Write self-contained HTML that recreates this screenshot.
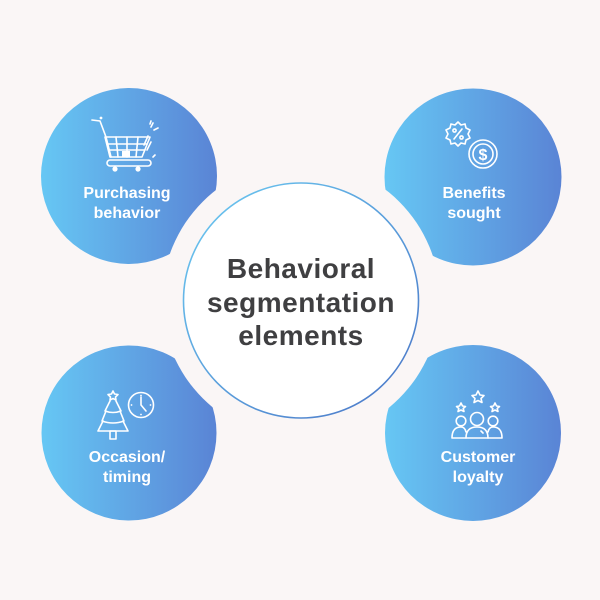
<!DOCTYPE html>
<html>
<head>
<meta charset="utf-8">
<style>
  html,body{margin:0;padding:0;background:#faf6f6;}
  svg{display:block;}
  .lbl{font-family:"Liberation Sans",Arial,sans-serif;font-weight:bold;font-size:16px;fill:#ffffff;text-anchor:middle;}
  .ctr{font-family:"Liberation Sans",Arial,sans-serif;font-weight:bold;font-size:28px;fill:#3f3f41;text-anchor:middle;letter-spacing:0.5px;}
  .ic{fill:none;stroke:#ffffff;stroke-width:1.6;stroke-linecap:round;stroke-linejoin:round;}
</style>
</head>
<body>
<svg width="600" height="600" viewBox="0 0 600 600" xmlns="http://www.w3.org/2000/svg">
  <defs>
    <linearGradient id="g" x1="0" y1="0" x2="1" y2="0">
      <stop offset="0" stop-color="#66c7f4"/>
      <stop offset="1" stop-color="#5a84d5"/>
    </linearGradient>
    <linearGradient id="rg" x1="0" y1="0" x2="1" y2="1">
      <stop offset="0" stop-color="#6ccbf2"/>
      <stop offset="1" stop-color="#4a74c6"/>
    </linearGradient>
  </defs>
  <rect width="600" height="600" fill="#faf6f6"/>

  <!-- outer circles -->
  <circle cx="129" cy="176" r="88" fill="url(#g)"/>
  <circle cx="473" cy="177" r="88.5" fill="url(#g)"/>
  <circle cx="129" cy="433" r="87.5" fill="url(#g)"/>
  <circle cx="473" cy="433" r="88" fill="url(#g)"/>

  <!-- cut ring -->
  <circle cx="301" cy="300" r="139" fill="#faf6f6"/>
  <!-- center -->
  <circle cx="301" cy="300.5" r="117.5" fill="#ffffff" stroke="url(#rg)" stroke-width="1.6"/>

  <text class="ctr" x="301" y="278">Behavioral</text>
  <text class="ctr" x="301" y="312">segmentation</text>
  <text class="ctr" x="301" y="345">elements</text>

  <!-- labels -->
  <text class="lbl" x="127" y="198">Purchasing</text>
  <text class="lbl" x="127" y="218">behavior</text>
  <text class="lbl" x="474" y="198">Benefits</text>
  <text class="lbl" x="474" y="218">sought</text>
  <text class="lbl" x="127" y="462">Occasion/</text>
  <text class="lbl" x="127" y="482">timing</text>
  <text class="lbl" x="478" y="462">Customer</text>
  <text class="lbl" x="478" y="482">loyalty</text>

  <!-- cart icon -->
  <g class="ic">
    <path d="M92 120 L100 121 L106 137 L111 157"/>
    <path d="M105 137 L150 137 L142 157 L110 157 Z"/>
    <path d="M107 144 L147 144 M109 150 L145 150"/>
    <path d="M116 137 L118 157 M127 137 L127 157 M138 137 L136 157"/>
    <rect x="107" y="160" width="44" height="6" rx="3"/>
    <path d="M144 145 L148 136 M147 150 L151 142"/>
    <path d="M151 127 L153 123 M154 130 L158 128 M150 124 L151 121"/>
    <path d="M153 157 L155 155"/>
  </g>
  <rect x="122" y="151" width="8" height="6" fill="#ffffff"/>
  <circle cx="115" cy="169" r="2.6" fill="#ffffff"/>
  <circle cx="138" cy="169" r="2.6" fill="#ffffff"/>
  <circle cx="101" cy="118" r="1.4" fill="#ffffff"/>

  <!-- benefits icon -->
  <g class="ic">
    <path d="M458 122 L461 125 L465 124 L466 128 L470 130 L468 134 L470 138 L466 140 L465 144 L461 143 L458 146 L455 143 L451 144 L450 140 L446 138 L448 134 L446 130 L450 128 L451 124 L455 125 Z"/>
    <path d="M454 139 L462 129"/>
    <circle cx="454.5" cy="130.5" r="1.6"/>
    <circle cx="461.5" cy="137.5" r="1.6"/>
    <circle cx="483" cy="154" r="14"/>
    <circle cx="483" cy="154" r="10"/>
  </g>
  <text x="483" y="160" font-family="Liberation Sans,Arial,sans-serif" font-weight="bold" font-size="16" fill="#ffffff" text-anchor="middle">$</text>

  <!-- tree + clock icon -->
  <g class="ic">
    <path d="M113 391 L114.5 394 L118 394.5 L115.5 397 L116 400 L113 398.5 L110 400 L110.5 397 L108 394.5 L111.5 394 Z"/>
    <path d="M110 401 L105 411 Q113 414 121 411 L116 401"/>
    <path d="M106 411 L102 421 Q113 425 124 421 L120 411"/>
    <path d="M103 421 L98 431 L128 431 L123 421"/>
    <rect x="110" y="431" width="6" height="8"/>
    <circle cx="141" cy="405" r="12.5"/>
    <path d="M141 397 L141 405 L146 411"/>
  </g>
  <g fill="#ffffff">
    <circle cx="141" cy="395.5" r="0.9"/><circle cx="141" cy="414.5" r="0.9"/>
    <circle cx="131.5" cy="405" r="0.9"/><circle cx="150.5" cy="405" r="0.9"/>
  </g>

  <!-- loyalty icon -->
  <g class="ic">
    <path d="M478 391 L480 395 L484 395.5 L481 398.5 L482 402.5 L478 400.5 L474 402.5 L475 398.5 L472 395.5 L476 395 Z"/>
    <path d="M461 403 L462.5 406 L465.5 406.5 L463.2 408.5 L464 411.5 L461 410 L458 411.5 L458.8 408.5 L456.5 406.5 L459.5 406 Z"/>
    <path d="M495 403 L496.5 406 L499.5 406.5 L497.2 408.5 L498 411.5 L495 410 L492 411.5 L492.8 408.5 L490.5 406.5 L493.5 406 Z"/>
    <circle cx="477" cy="419" r="6.5"/>
    <circle cx="461" cy="421" r="4.8"/>
    <circle cx="493" cy="421" r="4.8"/>
    <path d="M466 438 Q466 427 477 427 Q488 427 488 438 Z"/>
    <path d="M466 432 Q465 427 461 427 Q452 427 452 438 L466 438"/>
    <path d="M488 432 Q489 427 493 427 Q502 427 502 438 L488 438"/>
    <path d="M481 431 L483 433"/>
  </g>
</svg>
</body>
</html>
